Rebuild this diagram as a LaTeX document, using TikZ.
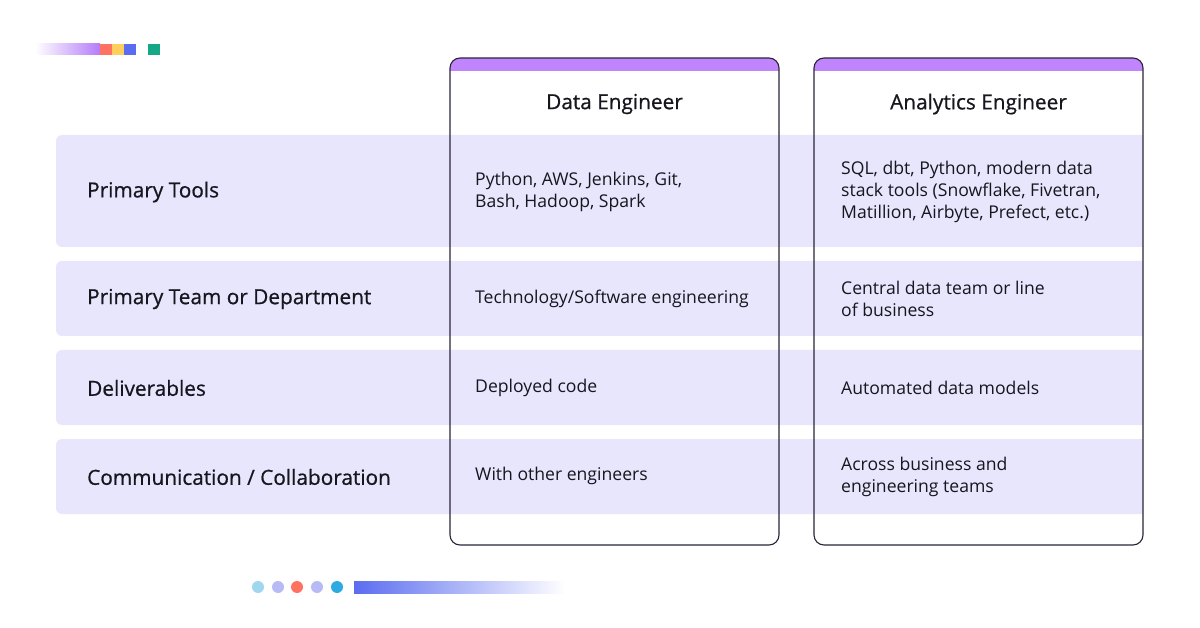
\documentclass[tikz,border=0pt]{standalone}
\usepackage{fontspec}
\setmainfont{Open Sans}
\newfontfamily\medfont[FakeBold=0.7]{Open Sans}
\definecolor{rowbg}{HTML}{E8E6FC}
\definecolor{band}{HTML}{C084FC}
\definecolor{edge}{HTML}{2A2438}
\definecolor{txt}{HTML}{16161E}
\definecolor{coral}{HTML}{FF7262}
\definecolor{yel}{HTML}{FFCE5C}
\definecolor{blu}{HTML}{5B6CF0}
\definecolor{teal}{HTML}{16A886}
\definecolor{lblue}{HTML}{A0D6F0}
\definecolor{lav}{HTML}{B8BAF5}
\definecolor{sky}{HTML}{2DAAE1}
\definecolor{grad}{HTML}{B57CF8}
\tikzset{
  lbl/.style={anchor=west,font=\medfont\fontsize{20.8}{24}\selectfont,text=txt,inner sep=0},
  cell/.style={anchor=west,font=\fontsize{17.6}{22}\selectfont,text=txt,inner sep=0,align=left},
  head/.style={font=\medfont\fontsize{20.8}{24}\selectfont,text=txt,inner sep=0},
  dot/.style={circle,minimum size=12pt,inner sep=0}
}
\begin{document}
\begin{tikzpicture}[x=1pt,y=-1pt]
\useasboundingbox (0,0) rectangle (1200,628);
\fill[white] (0,0) rectangle (1200,628);
% top deco
\shade[left color=white,right color=grad] (35,44) rectangle (100,55);
\fill[coral] (100,44) rectangle (112,55);
\fill[yel] (112,44) rectangle (124,55);
\fill[blu] (124,44) rectangle (136,55);
\fill[teal] (148,44) rectangle (160,55);
% rows
\foreach \a/\b in {135/247,261/336,350/425,439/514}{
  \fill[rowbg,rounded corners=6pt] (56,\a) rectangle (1150,\b);
}
\fill[white] (1143,120) rectangle (1200,530);
% columns
\foreach \l/\r in {450/779,814/1143}{
  \begin{scope}
  \clip[rounded corners=10pt] (\l,58) rectangle (\r,545);
  \fill[band] (\l,58) rectangle (\r,71);
  \end{scope}
  \draw[edge,line width=1.1pt,rounded corners=10pt] (\l,58) rectangle (\r,545);
}
\node[head] (h1) at (614.5,104) {Data Engineer};
\node[head] (h2) at (978.5,104) {Analytics Engineer};
% labels
\node[lbl] (l1) at (87,192) {Primary Tools};
\node[lbl] (l2) at (87,299) {Primary Team or Department};
\node[lbl] (l3) at (87,388) {Deliverables};
\node[lbl] (l4) at (87,477) {Communication / Collaboration};
\node[cell] (d1) at (475,192) {Python, AWS, Jenkins, Git,\\Bash, Hadoop, Spark};
\node[cell] (d2) at (475,299) {Technology/Software engineering};
\node[cell] (d3) at (475,388) {Deployed code};
\node[cell] (d4) at (475,476) {With other engineers};
\node[cell] (a1) at (841,192) {SQL, dbt, Python, modern data\\stack tools (Snowflake, Fivetran,\\Matillion, Airbyte, Prefect, etc.)};
\node[cell] (a2) at (841,299) {Central data team or line\\of business};
\node[cell] (a3) at (841,388) {Automated data models};
\node[cell] (a4) at (841,477) {Across business and\\engineering teams};
% bottom deco
\node[dot,fill=lblue] (p1) at (258,587) {};
\node[dot,fill=lav] (p2) at (278,587) {};
\node[dot,fill=coral] (p3) at (297,587) {};
\node[dot,fill=lav] (p4) at (317,587) {};
\node[dot,fill=sky] (p5) at (337,587) {};
\shade[left color=blu,right color=white] (354,581) rectangle (565,593);
\end{tikzpicture}
\end{document}
